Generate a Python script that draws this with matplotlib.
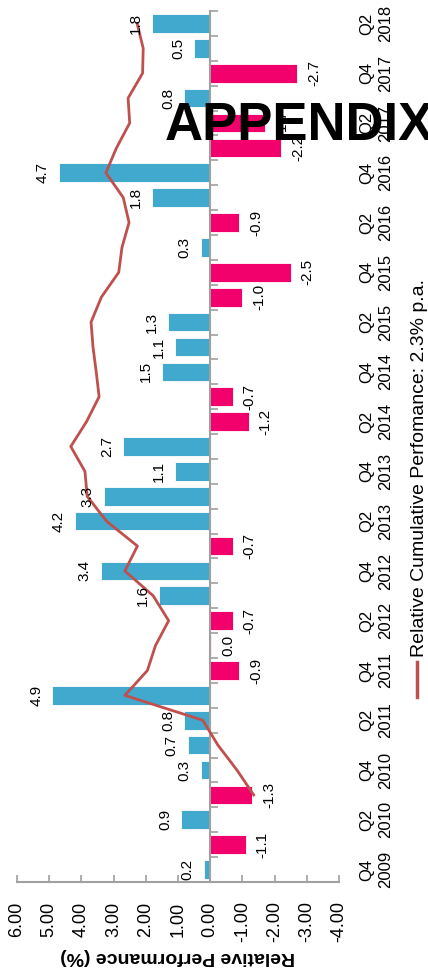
import numpy as np
import matplotlib
matplotlib.use("Agg")
import matplotlib.pyplot as plt
import matplotlib.transforms as mtransforms
from matplotlib.lines import Line2D

plt.rcParams['font.family'] = ['Liberation Sans', 'DejaVu Sans']

# quarterly relative performance, Q4 2009 .. Q2 2018
rel_perf = [0.2, -1.1, 0.9, -1.3, 0.3, 0.7, 0.8, 4.9, -0.9, -0.04,
            -0.7, 1.6, 3.4, -0.7, 4.2, 3.3, 1.1, 2.7, -1.2, -0.7,
            1.5, 1.1, 1.3, -1.0, -2.5, 0.3, -0.9, 1.8, 4.7, -2.2,
            -1.7, 0.8, -2.7, 0.5, 1.8]

# cumulative line (same axis units), starts at the 4th quarter
cum_start = 3
cum_perf = [-1.35, -0.83, -0.24, 0.23, 2.65, 1.95, 1.70, 1.29, 1.77, 2.65,
            2.26, 3.22, 3.82, 3.89, 4.33, 3.84, 3.45, 3.54, 3.64, 3.70,
            3.38, 2.84, 2.74, 2.52, 2.70, 3.24, 2.91, 2.50, 2.55, 2.10,
            2.08, 2.27]

tick_labels = ['Q4 2009', 'Q2 2010', 'Q4 2010', 'Q2 2011', 'Q4 2011', 'Q2 2012',
               'Q4 2012', 'Q2 2013', 'Q4 2013', 'Q2 2014', 'Q4 2014', 'Q2 2015',
               'Q4 2015', 'Q2 2016', 'Q4 2016', 'Q2 2017', 'Q4 2017', 'Q2 2018']

value_ticks = [6, 5, 4, 3, 2, 1, 0, -1, -2, -3, -4]
legend_text = 'Relative Cumulative Perfomance: 2.3% p.a.'

BLUE = '#41A8CE'
PINK = '#F2006C'
LINE = '#C0504D'
GREY = '#A0A0A0'

fig = plt.figure(figsize=(4.28, 9.8), dpi=100)
ax = fig.add_axes([17 / 428, 98 / 980, 322 / 428, 871 / 980])

idx = np.arange(len(rel_perf))
colors = [BLUE if v > 0 else PINK for v in rel_perf]
ax.barh(idx, rel_perf, height=0.75, color=colors, edgecolor='white',
        linewidth=0.6, zorder=2)

cum_idx = np.arange(cum_start, cum_start + len(cum_perf))
ax.plot(cum_perf, cum_idx, color=LINE, lw=2.0, zorder=3)

# value labels next to bar ends
for i, v in zip(idx, rel_perf):
    txt = f"{v:.1f}"
    if txt == "-0.0":
        txt = "0.0"
    if v > 0:
        ax.annotate(txt, (v, i), xytext=(-9, 0), textcoords='offset pixels',
                    rotation=90, ha='right', va='center', fontsize=11, zorder=4)
    else:
        ax.annotate(txt, (v, i), xytext=(10, 0), textcoords='offset pixels',
                    rotation=90, ha='left', va='center', fontsize=11, zorder=4)

ax.set_xlim(6, -4)
ax.set_ylim(-0.5, len(rel_perf) - 0.5)
ax.set_xticks(value_ticks)
ax.set_xticklabels([f"{t:.2f}" for t in value_ticks], rotation=90, fontsize=13)
ax.set_yticks(np.arange(-0.5, len(rel_perf), 1))

for s in ['top', 'right']:
    ax.spines[s].set_visible(False)
ax.spines['left'].set_position(('data', 0))
ax.spines['left'].set_color(GREY)
ax.spines['bottom'].set_color(GREY)
ax.spines['left'].set_linewidth(1.5)
ax.spines['bottom'].set_linewidth(1.5)
ax.tick_params(axis='y', direction='in', length=6, width=1.2, color=GREY,
               labelleft=False)
ax.tick_params(axis='x', direction='in', length=5, width=1.2, color=GREY, pad=14)

# category labels beyond the negative end
trans = mtransforms.blended_transform_factory(ax.transAxes, ax.transData)
for k, lab in enumerate(tick_labels):
    ax.text(1.115, 2 * k, lab.replace(' ', '\n'), transform=trans, rotation=90,
            ha='center', va='center', multialignment='center', fontsize=12,
            linespacing=1.3)

ax.text(0.5, -0.085, 'Relative Performance (%)', transform=ax.transAxes,
        rotation=180, ha='center', va='center', fontsize=14, fontweight='bold')

# legend drawn by hand (rotated)
fig.add_artist(Line2D([417 / 428, 417 / 428], [1 - 662 / 980, 1 - 697 / 980],
                      color=LINE, lw=2.5, transform=fig.transFigure))
fig.text(419 / 428, 1 - 657 / 980, legend_text, rotation=90, ha='center',
         va='bottom', fontsize=14)

fig.text(165 / 428, 1 - 140 / 980, 'APPENDIX', fontsize=38, fontweight='bold',
         ha='left', va='baseline', zorder=10)

fig.savefig('out.png', dpi=100)
